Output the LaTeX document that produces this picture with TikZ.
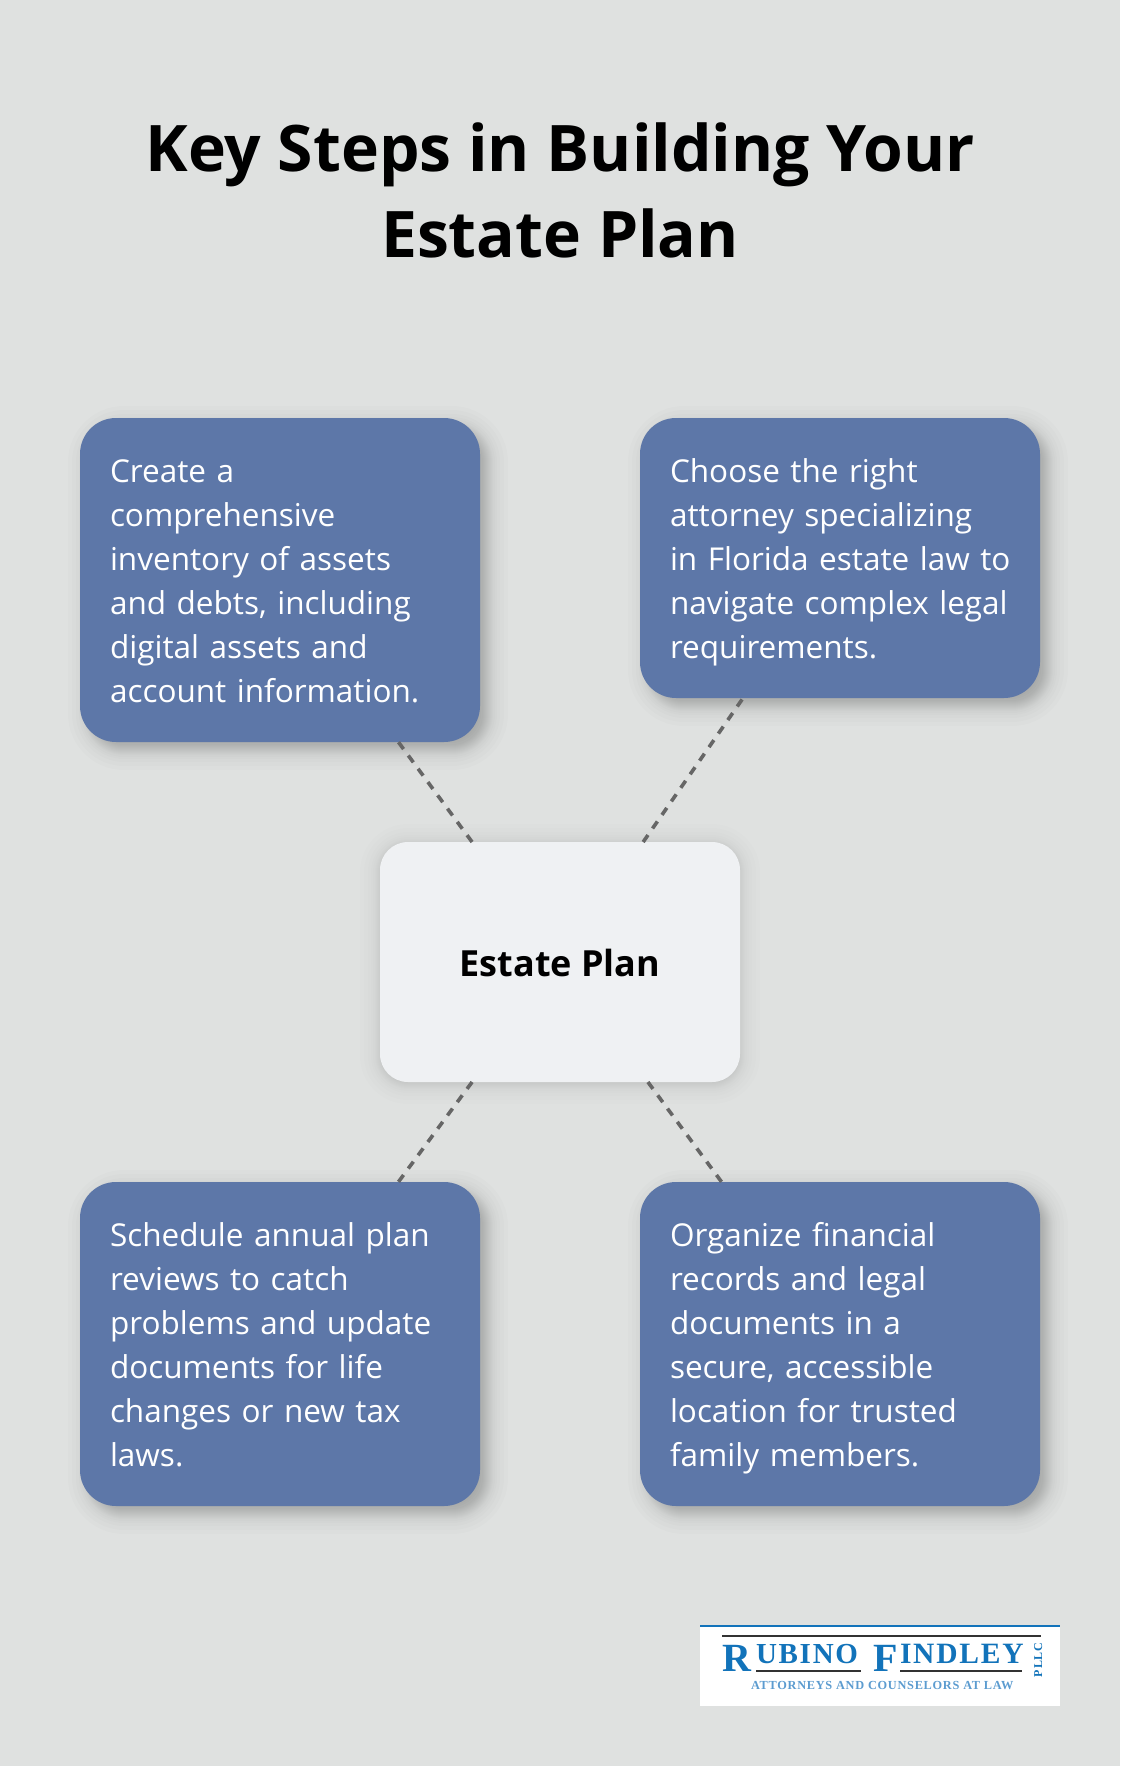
\documentclass[tikz,border=0pt]{standalone}
\usepackage{fontspec}
\setmainfont{Open Sans}
\newfontfamily\logofont[LetterSpace=6]{Liberation Serif}
\usepackage{xcolor}
\usepackage{tikz}
\usetikzlibrary{calc,positioning,backgrounds}

\definecolor{pagebg}{HTML}{DFE1E0}
\definecolor{stepblue}{HTML}{5D77A8}
\definecolor{hubwhite}{HTML}{EFF1F3}
\definecolor{linkgrey}{HTML}{666666}
\definecolor{logoblue}{HTML}{1273BA}
\definecolor{logolight}{HTML}{5C9CD0}

\newcommand{\stepstrut}{\rule[-10pt]{0pt}{44pt}}

\tikzset{
  stepbox/.style={fill=stepblue,text=white,rounded corners=36pt,minimum width=400pt,
    inner xsep=30pt,inner ysep=0pt,outer sep=0pt,text width=340pt,align=left,
    font=\fontsize{31.5}{44}\selectfont,
    execute at begin node=\stepstrut,execute at end node=\stepstrut},
  hubbox/.style={fill=hubwhite,rounded corners=28pt,minimum width=360pt,minimum height=240pt,
    outer sep=0pt,text height=29.5pt,font=\fontsize{36}{44}\selectfont\bfseries},
  linkline/.style={linkgrey,line width=3.6pt,dash pattern=on 8.5pt off 8pt},
  logotext/.style={inner sep=0pt,outer sep=0pt,anchor=base west},
}

% blurred shadow behind a node: name, x shift, y shift, corner radius, opacity
\newcommand{\softshadow}[5]{
  \foreach \g in {-16,-12,-9,-7,-5,-4,-3,-2,-1,0,1,2,3,4,5,7,9,12,16,20}{
    \pgfmathsetmacro{\rad}{max(#4+\g,1)}
    \fill[black,opacity=#5,rounded corners=\rad pt]
      ($(#1.south west)+(#2-\g,#3+\g)$) rectangle ($(#1.north east)+(#2+\g,#3-\g)$);
  }
}

\begin{document}
\begin{tikzpicture}[x=1pt,y=-1pt]
\useasboundingbox (0,0) rectangle (1120,1766);

\node[font=\fontsize{64.2}{86}\selectfont\bfseries,align=center,inner sep=0pt](title) at (560,190.5)
  {Key Steps in Building Your\\Estate Plan};

\coordinate(O1) at (80,418);
\node[below right=0cm of O1,stepbox,minimum height=324pt](box1)
  {Create a\\comprehensive\\inventory of assets\\and debts, including\\digital assets and\\account information.};

\coordinate(O1) at (640,418);
\node[below right=0cm of O1,stepbox,minimum height=280pt](box2)
  {Choose the right\\attorney specializing\\\mbox{in Florida estate law to}\\navigate complex legal\\requirements.};

\coordinate(O1) at (80,1182);
\node[below right=0cm of O1,stepbox,minimum height=324pt](box3)
  {Schedule annual plan\\reviews to catch\\problems and update\\documents for life\\changes or new tax\\laws.};

\coordinate(O1) at (640,1182);
\node[below right=0cm of O1,stepbox,minimum height=324pt](box4)
  {Organize financial\\records and legal\\documents in a\\secure, accessible\\location for trusted\\family members.};

\coordinate(O1) at (380,842);
\node[below right=0cm of O1,hubbox](hub) {Estate Plan};

\draw[linkline] (hub) -- (box1);
\draw[linkline] (hub) -- (box2);
\draw[linkline] (hub) -- (box3);
\draw[linkline] (hub) -- (box4);

% logo
\coordinate(O1) at (700,1626);
\node[below right=0cm of O1,fill=white,minimum width=360pt,minimum height=80pt,inner sep=0pt,outer sep=0pt](logo) {};
\draw[logoblue,line width=1.2pt] (logo.north west) -- (logo.north east);
\draw[black!80,line width=2.2pt] (722,1636) -- (1041,1636);
\draw[black!80,line width=2pt] (756,1670.5) -- (861,1670.5);
\draw[black!80,line width=2pt] (900,1670.5) -- (1022,1670.5);
\node[logotext,text=logoblue,font=\logofont\bfseries\fontsize{40}{40}\selectfont](logoR) at (722,1671) {R};
\node[logotext,text=logoblue,font=\logofont\bfseries\fontsize{29}{29}\selectfont](logoU) at (756,1663) {UBINO};
\node[logotext,text=logoblue,font=\logofont\bfseries\fontsize{40}{40}\selectfont](logoF) at (873,1671) {F};
\node[logotext,text=logoblue,font=\logofont\bfseries\fontsize{29.5}{29}\selectfont](logoI) at (900,1663) {INDLEY};
\node[logotext,text=logoblue,font=\logofont\bfseries\fontsize{12}{12}\selectfont,rotate=90](logoP) at (1042,1677) {PLLC};
\node[logotext,text=logolight,font=\logofont\bfseries\fontsize{12.3}{12}\selectfont](logoT) at (751,1689.5) {ATTORNEYS AND COUNSELORS AT LAW};

\begin{scope}[on background layer]
\fill[pagebg] (0,0) rectangle (1120,1766);
\softshadow{box1}{8}{8}{36}{.0135}
\softshadow{box2}{8}{8}{36}{.0135}
\softshadow{box3}{8}{8}{36}{.0135}
\softshadow{box4}{8}{8}{36}{.0135}
\softshadow{hub}{0}{2}{28}{.009}
\end{scope}
\end{tikzpicture}
\end{document}
